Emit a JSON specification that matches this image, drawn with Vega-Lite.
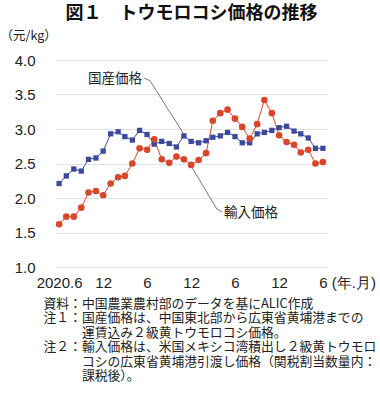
{
  "$schema": "https://vega.github.io/schema/vega-lite/v6.json",
  "width": 273,
  "height": 207,
  "autosize": {"type": "none"},
  "padding": {"left": 55, "top": 60, "right": 52, "bottom": 139},
  "background": "white",
  "title": {
    "text": "図１　トウモロコシ価格の推移",
    "font": "Noto Sans CJK JP",
    "fontSize": 18,
    "fontWeight": "bold",
    "color": "#111111",
    "anchor": "middle",
    "frame": "group",
    "offset": 6
  },
  "config": {
    "view": {"stroke": null},
    "axis": {"domain": false, "ticks": false, "tickSize": 0}
  },
  "data": {
    "values": [
      {"date": "2020-06-01", "series": "国産価格", "value": 2.21},
      {"date": "2020-07-01", "series": "国産価格", "value": 2.32},
      {"date": "2020-08-01", "series": "国産価格", "value": 2.42},
      {"date": "2020-09-01", "series": "国産価格", "value": 2.39},
      {"date": "2020-10-01", "series": "国産価格", "value": 2.56},
      {"date": "2020-11-01", "series": "国産価格", "value": 2.58},
      {"date": "2020-12-01", "series": "国産価格", "value": 2.68},
      {"date": "2021-01-01", "series": "国産価格", "value": 2.93},
      {"date": "2021-02-01", "series": "国産価格", "value": 2.96},
      {"date": "2021-03-01", "series": "国産価格", "value": 2.89},
      {"date": "2021-04-01", "series": "国産価格", "value": 2.84},
      {"date": "2021-05-01", "series": "国産価格", "value": 2.98},
      {"date": "2021-06-01", "series": "国産価格", "value": 2.92},
      {"date": "2021-07-01", "series": "国産価格", "value": 2.78},
      {"date": "2021-08-01", "series": "国産価格", "value": 2.82},
      {"date": "2021-09-01", "series": "国産価格", "value": 2.79},
      {"date": "2021-10-01", "series": "国産価格", "value": 2.74},
      {"date": "2021-11-01", "series": "国産価格", "value": 2.90},
      {"date": "2021-12-01", "series": "国産価格", "value": 2.82},
      {"date": "2022-01-01", "series": "国産価格", "value": 2.80},
      {"date": "2022-02-01", "series": "国産価格", "value": 2.83},
      {"date": "2022-03-01", "series": "国産価格", "value": 2.88},
      {"date": "2022-04-01", "series": "国産価格", "value": 2.90},
      {"date": "2022-05-01", "series": "国産価格", "value": 2.95},
      {"date": "2022-06-01", "series": "国産価格", "value": 2.89},
      {"date": "2022-07-01", "series": "国産価格", "value": 2.80},
      {"date": "2022-08-01", "series": "国産価格", "value": 2.80},
      {"date": "2022-09-01", "series": "国産価格", "value": 2.93},
      {"date": "2022-10-01", "series": "国産価格", "value": 2.95},
      {"date": "2022-11-01", "series": "国産価格", "value": 2.98},
      {"date": "2022-12-01", "series": "国産価格", "value": 3.02},
      {"date": "2023-01-01", "series": "国産価格", "value": 3.04},
      {"date": "2023-02-01", "series": "国産価格", "value": 2.97},
      {"date": "2023-03-01", "series": "国産価格", "value": 2.93},
      {"date": "2023-04-01", "series": "国産価格", "value": 2.87},
      {"date": "2023-05-01", "series": "国産価格", "value": 2.72},
      {"date": "2023-06-01", "series": "国産価格", "value": 2.72},
      {"date": "2020-06-01", "series": "輸入価格", "value": 1.62},
      {"date": "2020-07-01", "series": "輸入価格", "value": 1.73},
      {"date": "2020-08-01", "series": "輸入価格", "value": 1.73},
      {"date": "2020-09-01", "series": "輸入価格", "value": 1.86},
      {"date": "2020-10-01", "series": "輸入価格", "value": 2.08},
      {"date": "2020-11-01", "series": "輸入価格", "value": 2.10},
      {"date": "2020-12-01", "series": "輸入価格", "value": 2.04},
      {"date": "2021-01-01", "series": "輸入価格", "value": 2.21},
      {"date": "2021-02-01", "series": "輸入価格", "value": 2.30},
      {"date": "2021-03-01", "series": "輸入価格", "value": 2.32},
      {"date": "2021-04-01", "series": "輸入価格", "value": 2.50},
      {"date": "2021-05-01", "series": "輸入価格", "value": 2.72},
      {"date": "2021-06-01", "series": "輸入価格", "value": 2.70},
      {"date": "2021-07-01", "series": "輸入価格", "value": 2.85},
      {"date": "2021-08-01", "series": "輸入価格", "value": 2.56},
      {"date": "2021-09-01", "series": "輸入価格", "value": 2.51},
      {"date": "2021-10-01", "series": "輸入価格", "value": 2.60},
      {"date": "2021-11-01", "series": "輸入価格", "value": 2.56},
      {"date": "2021-12-01", "series": "輸入価格", "value": 2.48},
      {"date": "2022-01-01", "series": "輸入価格", "value": 2.55},
      {"date": "2022-02-01", "series": "輸入価格", "value": 2.65},
      {"date": "2022-03-01", "series": "輸入価格", "value": 3.12},
      {"date": "2022-04-01", "series": "輸入価格", "value": 3.23},
      {"date": "2022-05-01", "series": "輸入価格", "value": 3.28},
      {"date": "2022-06-01", "series": "輸入価格", "value": 3.15},
      {"date": "2022-07-01", "series": "輸入価格", "value": 3.03},
      {"date": "2022-08-01", "series": "輸入価格", "value": 2.86},
      {"date": "2022-09-01", "series": "輸入価格", "value": 3.07},
      {"date": "2022-10-01", "series": "輸入価格", "value": 3.42},
      {"date": "2022-11-01", "series": "輸入価格", "value": 3.23},
      {"date": "2022-12-01", "series": "輸入価格", "value": 2.91},
      {"date": "2023-01-01", "series": "輸入価格", "value": 2.81},
      {"date": "2023-02-01", "series": "輸入価格", "value": 2.77},
      {"date": "2023-03-01", "series": "輸入価格", "value": 2.66},
      {"date": "2023-04-01", "series": "輸入価格", "value": 2.70},
      {"date": "2023-05-01", "series": "輸入価格", "value": 2.50},
      {"date": "2023-06-01", "series": "輸入価格", "value": 2.52}
    ],
    "format": {"parse": {"date": "utc:'%Y-%m-%d'"}}
  },
  "encoding": {
    "x": {
      "field": "date",
      "type": "temporal",
      "scale": {
        "type": "utc",
        "domain": [
          {"year": 2020, "month": 5, "date": 15, "utc": true},
          {"year": 2023, "month": 6, "date": 22, "utc": true}
        ]
      },
      "axis": {
        "values": [
          {"year": 2020, "month": 6, "date": 1, "utc": true},
          {"year": 2020, "month": 12, "date": 1, "utc": true},
          {"year": 2021, "month": 6, "date": 1, "utc": true},
          {"year": 2021, "month": 12, "date": 1, "utc": true},
          {"year": 2022, "month": 6, "date": 1, "utc": true},
          {"year": 2022, "month": 12, "date": 1, "utc": true},
          {"year": 2023, "month": 6, "date": 1, "utc": true}
        ],
        "labelExpr": "utcyear(datum.value) == 2020 && utcmonth(datum.value) == 5 ? '2020.6' : (utcyear(datum.value) == 2023 ? '6 (年.月)' : utcFormat(datum.value, '%-m'))",
        "labelAlign": {"condition": {"test": "utcyear(datum.value) == 2023", "value": "left"}, "value": "center"},
        "labelOffset": {"condition": {"test": "utcyear(datum.value) == 2023", "value": -4.2}, "value": 0},
        "labelFont": "Liberation Sans",
        "labelFontSize": 15,
        "labelColor": "#222222",
        "labelPadding": 8,
        "labelOverlap": false,
        "labelFlush": false,
        "labelBound": false,
        "grid": false,
        "title": [
          "資料：中国農業農村部のデータを基にALIC作成",
          "注１：国産価格は、中国東北部から広東省黄埔港までの",
          "\u200b　　　運賃込み２級黄トウモロコシ価格。",
          "注２：輸入価格は、米国メキシコ湾積出し２級黄トウモロ",
          "\u200b　　　コシの広東省黄埔港引渡し価格（関税割当数量内：",
          "\u200b　　　課税後）。"
        ],
        "titleFont": "Noto Sans CJK JP",
        "titleFontSize": 12.8,
        "titleFontWeight": "normal",
        "titleColor": "#222222",
        "titleAlign": "left",
        "titleAnchor": "start",
        "titleBaseline": "top",
        "titleLineHeight": 14.5,
        "titleX": -12,
        "titleY": 30
      }
    },
    "y": {
      "field": "value",
      "type": "quantitative",
      "scale": {"domain": [1, 4], "nice": false, "zero": false},
      "axis": {
        "values": [1, 1.5, 2, 2.5, 3, 3.5, 4],
        "format": ".1f",
        "labelFont": "Liberation Sans",
        "labelFontSize": 15,
        "labelColor": "#222222",
        "labelPadding": 20,
        "grid": true,
        "gridColor": "#e3e3e3",
        "gridWidth": 1,
        "title": "（元/kg）",
        "titleFont": "Noto Sans CJK JP",
        "titleFontSize": 12.5,
        "titleFontWeight": "normal",
        "titleColor": "#222222",
        "titleAngle": 0,
        "titleAlign": "left",
        "titleBaseline": "middle",
        "titleX": -55,
        "titleY": -25
      }
    }
  },
  "layer": [
    {
      "mark": {"type": "line", "strokeWidth": 1},
      "encoding": {
        "color": {
          "field": "series",
          "type": "nominal",
          "scale": {"domain": ["国産価格", "輸入価格"], "range": ["#3d4a9c", "#d9472b"]},
          "legend": null
        }
      }
    },
    {
      "mark": {"type": "point", "filled": true, "opacity": 1},
      "encoding": {
        "color": {"field": "series", "type": "nominal", "legend": null},
        "shape": {
          "field": "series",
          "type": "nominal",
          "scale": {"domain": ["国産価格", "輸入価格"], "range": ["square", "circle"]},
          "legend": null
        },
        "size": {
          "field": "series",
          "type": "nominal",
          "scale": {"domain": ["国産価格", "輸入価格"], "range": [28, 44]},
          "legend": null
        }
      }
    },
    {
      "data": {
        "values": [
          {"line": "a", "order": 1, "date": "2021-05-19", "value": 3.74},
          {"line": "a", "order": 2, "date": "2021-06-13", "value": 3.70},
          {"line": "a", "order": 3, "date": "2021-10-29", "value": 2.94},
          {"line": "b", "order": 1, "date": "2021-12-04", "value": 2.445},
          {"line": "b", "order": 2, "date": "2022-03-18", "value": 1.84},
          {"line": "b", "order": 3, "date": "2022-04-08", "value": 1.795}
        ],
        "format": {"parse": {"date": "utc:'%Y-%m-%d'"}}
      },
      "mark": {"type": "line", "color": "#555555", "strokeWidth": 0.8},
      "encoding": {
        "detail": {"field": "line", "type": "nominal"},
        "order": {"field": "order", "type": "quantitative"}
      }
    },
    {
      "data": {
        "values": [{"date": "2021-05-11", "value": 3.72, "label": "国産価格"}],
        "format": {"parse": {"date": "utc:'%Y-%m-%d'"}}
      },
      "mark": {"type": "text", "align": "right", "baseline": "middle", "font": "Noto Sans CJK JP", "fontSize": 13.5, "color": "#222222"},
      "encoding": {"text": {"field": "label"}}
    },
    {
      "data": {
        "values": [{"date": "2022-04-16", "value": 1.78, "label": "輸入価格"}],
        "format": {"parse": {"date": "utc:'%Y-%m-%d'"}}
      },
      "mark": {"type": "text", "align": "left", "baseline": "middle", "font": "Noto Sans CJK JP", "fontSize": 13.5, "color": "#222222"},
      "encoding": {"text": {"field": "label"}}
    }
  ]
}
